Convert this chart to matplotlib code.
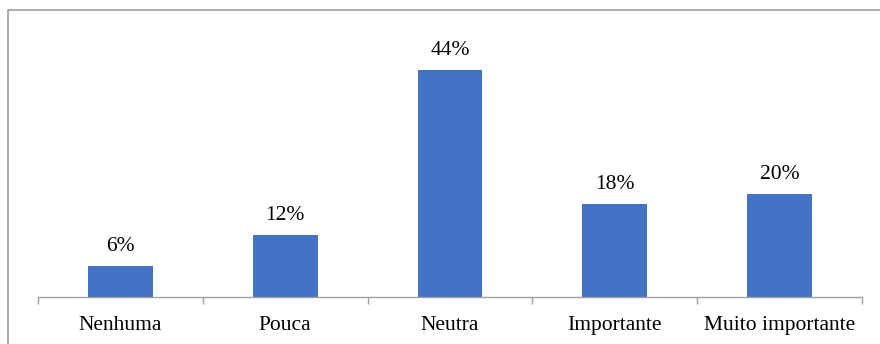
import matplotlib
matplotlib.use("Agg")
import matplotlib.pyplot as plt
from matplotlib.patches import Rectangle

categories = ["Nenhuma", "Pouca", "Neutra", "Importante", "Muito importante"]
values = [6, 12, 44, 18, 20]
value_labels = ["6%", "12%", "44%", "18%", "20%"]

plt.rcParams["font.family"] = ["Liberation Serif", "DejaVu Serif"]

fig = plt.figure(figsize=(8.8, 3.44), dpi=100)
fig.patch.set_facecolor("white")

# outer frame (cropped on right and bottom in the reference)
fig.add_artist(Rectangle((8 / 880, -0.1), 1.0, 1 - 10 / 344 + 0.1,
                         transform=fig.transFigure, fill=False,
                         edgecolor="#a0a0a0", linewidth=1.2))

ax = fig.add_axes([38 / 880, 47 / 344, 824 / 880, 258 / 344])
x = range(len(categories))
ax.bar(x, values, width=65 / 165, color="#4472C4")

for i, (v, lab) in enumerate(zip(values, value_labels)):
    ax.annotate(lab, xy=(i, v), xytext=(0, 7), textcoords="offset points",
                ha="center", va="bottom", fontsize=15.5, color="#000000")

ax.set_xlim(-0.5, len(categories) - 0.5)
ax.set_ylim(0, 50)

for s in ["top", "right", "left"]:
    ax.spines[s].set_visible(False)
ax.spines["bottom"].set_color("#a0a0a0")
ax.spines["bottom"].set_linewidth(1.0)

ax.set_yticks([])
ax.set_xticks([i - 0.5 for i in range(len(categories) + 1)])
ax.set_xticklabels([])
ax.tick_params(axis="x", length=5, width=1.0, color="#a0a0a0")
ax.set_xticks(list(x), minor=True)
ax.set_xticklabels(categories, minor=True, fontsize=15.5)
ax.tick_params(axis="x", which="minor", length=0, pad=13.5)

fig.savefig("out.png", dpi=100)
